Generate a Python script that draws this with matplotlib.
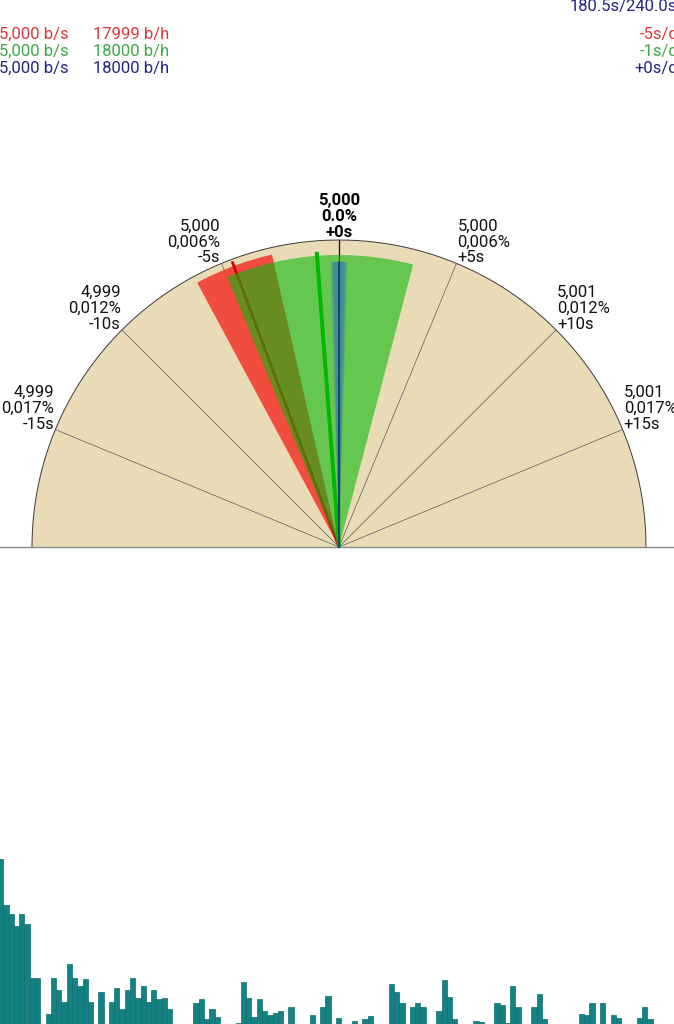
import numpy as np
import matplotlib.pyplot as plt
from matplotlib.patches import Wedge

plt.rcParams['font.family'] = ['Roboto', 'DejaVu Sans']

#==================
#====== Data
#==================
# gauge scale (s/d) and the three label lines at each tick
tick_secs = [-15, -10, -5, 0, 5, 10, 15]
tick_rate = ['4,999', '4,999', '5,000', '5,000', '5,000', '5,001', '5,001']
tick_pct = ['0,017%', '0,012%', '0,006%', '0.0%', '0,006%', '0,012%', '0,017%']
tick_txt = ['-15s', '-10s', '-5s', '+0s', '+5s', '+10s', '+15s']
full_scale = 20  # s/d at the horizontal line

# measured rate and spread (s/d): red, green, blue
rate_sd = [-4.56, -0.96, 0.0]
spread_lo = [-6.27, -5.0, -0.27]
spread_hi = [-2.87, 3.27, 0.27]
bs_txt = ['5,000 b/s', '5,000 b/s', '5,000 b/s']
bh_txt = ['17999 b/h', '18000 b/h', '18000 b/h']
sd_txt = ['-5s/d', '-1s/d', '+0s/d']
status_txt = '180.5s/240.0s'

# histogram at the bottom (one value per bin)
hist = [165, 119, 110, 98, 110, 100, 46, 46, 0, 10,
        46, 34, 22, 60, 46, 38, 45, 22, 0, 32,
        0, 22, 36, 15, 34, 46, 26, 38, 22, 34,
        25, 26, 15, 0, 0, 0, 0, 21, 25, 5,
        15, 7, 0, 0, 0, 1, 42, 26, 7, 25,
        13, 9, 11, 13, 0, 17, 0, 0, 0, 9,
        0, 17, 28, 0, 6, 0, 0, 3, 0, 5,
        8, 0, 0, 0, 40, 32, 21, 0, 17, 21,
        17, 0, 0, 13, 44, 27, 5, 0, 0, 0,
        3, 2, 0, 0, 21, 19, 1, 38, 17, 0,
        0, 17, 30, 5, 0, 0, 0, 0, 0, 0,
        10, 9, 21, 0, 21, 0, 9, 6, 0, 0,
        0, 6, 17, 5, 0, 0, 0, 0]

#==================
#====== Style
#==================
W, H = 674, 1024
cx, cy = 339, H - 547   # gauge centre
R = 307
txt_cols = ['#D83A3A', '#3BA845', '#24247E']
beige = '#EADBB7'
fs_head = 12
fs_lab = 12

def ang(s):
    # s/d -> degrees from vertical
    return s * 90.0 / full_scale

def pt(s, r):
    a = np.radians(ang(s))
    return cx + r * np.sin(a), cy + r * np.cos(a)

fig = plt.figure(figsize=(W / 100, H / 100), dpi=100)
ax = fig.add_axes([0, 0, 1, 1])
ax.set_xlim(0, W)
ax.set_ylim(0, H)
ax.axis('off')

# dial
ax.add_patch(Wedge((cx, cy), R, 0, 180, facecolor=beige, edgecolor='none', zorder=1))
th = np.linspace(0, np.pi, 300)
ax.plot(cx + R * np.cos(th), cy + R * np.sin(th), color='#3a3a3a', lw=0.7, zorder=2)
ax.plot([0, W], [cy, cy], color='#8a8a8a', lw=1.0, zorder=2)

for s in tick_secs:
    x1, y1 = pt(s, R)
    ax.plot([cx, x1], [cy, y1], color='#111111' if s == 0 else '#5a5a5a',
            lw=0.9 if s == 0 else 0.5, zorder=3)

# red
a0, a1 = ang(spread_lo[0]), ang(spread_hi[0])
ax.add_patch(Wedge((cx, cy), 300, 90 - a1, 90 - a0, facecolor='#F1483A',
                   edgecolor='none', alpha=0.97, zorder=4))
x1, y1 = pt(rate_sd[0], 305)
ax.plot([cx, x1], [cy, y1], color='#D40000', lw=2.0, zorder=5, solid_capstyle='butt')

# green
a0, a1 = ang(spread_lo[1]), ang(spread_hi[1])
ax.add_patch(Wedge((cx, cy), 292, 90 - a1, 90 - a0, facecolor='#0CB80C',
                   edgecolor='none', alpha=0.6, zorder=6))
x1, y1 = pt(rate_sd[1], 296)
ax.plot([cx, x1], [cy, y1], color='#00B800', lw=2.8, zorder=7, solid_capstyle='butt')

# blue
a0, a1 = ang(spread_lo[2]), ang(spread_hi[2])
for k, a in enumerate([0.15, 0.25, 0.4]):
    g = 0.6 - 0.3 * k
    ax.add_patch(Wedge((cx, cy), 285, 90 - a1 - g, 90 - a0 + g, facecolor='#2F6FC0',
                       edgecolor='none', alpha=a, zorder=8))
x1, y1 = pt(rate_sd[2], 285)
ax.plot([cx, x1], [cy, y1], color='#1C3C70', lw=1.3, zorder=9)

# tick labels
for s, r1, p1, t1 in zip(tick_secs, tick_rate, tick_pct, tick_txt):
    x1, y1 = pt(s, R)
    lab = r1 + '\n' + p1 + '\n' + t1
    if s == 0:
        ax.text(x1, y1 + 3, lab, ha='center', va='baseline', multialignment='center',
                fontsize=fs_lab, fontweight='bold', linespacing=1.08, color='black', zorder=10)
    elif s < 0:
        ax.text(x1 - 1, y1 + 1, lab, ha='right', va='baseline', multialignment='right',
                fontsize=fs_lab, linespacing=1.08, color='#111111', zorder=10)
    else:
        ax.text(x1 + 1, y1 + 1, lab, ha='left', va='baseline', multialignment='left',
                fontsize=fs_lab, linespacing=1.08, color='#111111', zorder=10)

# header texts
ax.text(570, H - 10.5, status_txt, ha='left', va='baseline', fontsize=fs_head, color=txt_cols[2])
for i in range(3):
    yb = H - (39 + 17 * i)
    ax.text(-1, yb, bs_txt[i], ha='left', va='baseline', fontsize=fs_head, color=txt_cols[i])
    ax.text(93, yb, bh_txt[i], ha='left', va='baseline', fontsize=fs_head, color=txt_cols[i])
    ax.text(678, yb, sd_txt[i], ha='right', va='baseline', fontsize=fs_head, color=txt_cols[i])

# histogram
bx = fig.add_axes([0, 0, 1, 200 / H])
bx.bar(np.arange(len(hist)), hist, width=1.0, align='edge', color='#148282',
       edgecolor='#0E6E6E', linewidth=0.5)
bx.set_xlim(0.375, 0.375 + W / 5.28)
bx.set_ylim(0, 200)
bx.axis('off')

fig.savefig('out.png', dpi=100)
